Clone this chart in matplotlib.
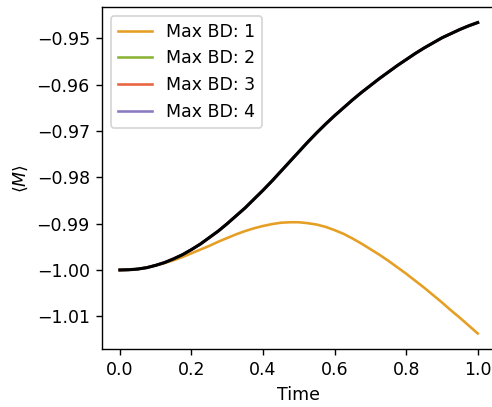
import matplotlib
matplotlib.use("Agg")
import matplotlib.pyplot as plt

# time grid and magnetisation
time = [0.000, 0.025, 0.050, 0.075, 0.100, 0.125, 0.150, 0.175, 0.200, 0.225,
        0.250, 0.275, 0.300, 0.325, 0.350, 0.375, 0.400, 0.425, 0.450, 0.475,
        0.500, 0.525, 0.550, 0.575, 0.600, 0.625, 0.650, 0.675, 0.700, 0.725,
        0.750, 0.775, 0.800, 0.825, 0.850, 0.875, 0.900, 0.925, 0.950, 0.975,
        1.000]

# Max BD 1 (truncated bond dimension)
m_bd1 = [-1.0000, -0.99995, -0.9998, -0.9995, -0.9990, -0.9985, -0.9979,
         -0.9972, -0.9964, -0.9956, -0.9948, -0.9939, -0.9931, -0.9923,
         -0.9916, -0.9910, -0.9905, -0.9901, -0.9898, -0.9897, -0.9897,
         -0.9899, -0.9902, -0.9907, -0.9914, -0.9922, -0.9932, -0.9943,
         -0.9955, -0.9967, -0.9980, -0.9994, -1.0008, -1.0023, -1.0038,
         -1.0054, -1.0070, -1.0087, -1.0103, -1.0120, -1.0137]

# Max BD 2, 3, 4 and the exact curve all sit on the same line
m_bd2 = [-1.0000, -0.99995, -0.9998, -0.9995, -0.9990, -0.9984, -0.9976,
         -0.9967, -0.9956, -0.9944, -0.9930, -0.9916, -0.9900, -0.9883,
         -0.9866, -0.9847, -0.9828, -0.9808, -0.9787, -0.9766, -0.9745,
         -0.9724, -0.9704, -0.9685, -0.9667, -0.9650, -0.9633, -0.9617,
         -0.9602, -0.9587, -0.9573, -0.9559, -0.9546, -0.9533, -0.9521,
         -0.9510, -0.9499, -0.9490, -0.9481, -0.9473, -0.9466]
m_bd3 = list(m_bd2)
m_bd4 = list(m_bd2)
m_exact = list(m_bd2)

labels = ['Max BD: 1', 'Max BD: 2', 'Max BD: 3', 'Max BD: 4']
colors = ['#e69f25', '#8cb437', '#ea6440', '#8c7ac0']

DPI = 125
fig = plt.figure(figsize=(492 / DPI, 407 / DPI), dpi=DPI)
ax = fig.add_axes([102 / 492, 1 - 349 / 407, 393.6 / 492, 342 / 407])

for m, lab, c in zip([m_bd1, m_bd2, m_bd3, m_bd4], labels, colors):
    ax.plot(time, m, color=c, label=lab, lw=1.5)
ax.plot(time, m_exact, color='k', lw=1.8)

ax.set_xlabel('Time')
ax.set_ylabel(r'$\langle M \rangle$')
ax.legend(loc='upper left')

fig.savefig('out.png', dpi=DPI)
